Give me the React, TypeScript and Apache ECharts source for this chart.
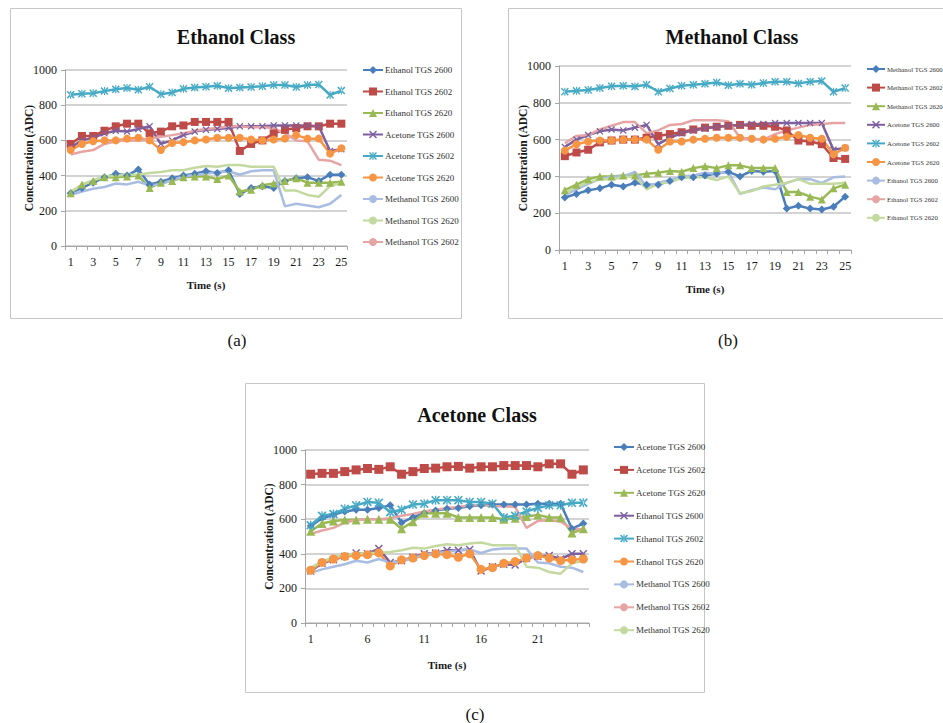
import React, { useEffect, useRef } from "react";
import * as echarts from "echarts";

const timeLabels = ["1","2","3","4","5","6","7","8","9","10","11","12","13","14","15","16","17","18","19","20","21","22","23","24","25"];

// ---- (a) Ethanol Class ----
const aEthanol2600 = [300, 330, 360, 390, 410, 400, 435, 350, 365, 385, 400, 410, 425, 415, 430, 295, 330, 340, 330, 370, 385, 390, 370, 405, 405];
const aEthanol2602 = [580, 625, 625, 655, 680, 695, 695, 640, 650, 680, 685, 705, 705, 705, 705, 540, 580, 600, 640, 660, 670, 680, 680, 695, 695];
const aEthanol2620 = [300, 350, 370, 390, 390, 395, 400, 330, 360, 370, 390, 395, 395, 380, 400, 310, 320, 345, 355, 370, 385, 360, 360, 360, 365];
const aAcetone2600 = [560, 600, 615, 640, 655, 650, 665, 680, 580, 600, 630, 650, 660, 665, 670, 680, 680, 680, 685, 685, 685, 685, 680, 540, 550];
const aAcetone2602 = [860, 865, 868, 880, 890, 898, 888, 905, 862, 872, 893, 900, 905, 910, 897, 900, 903, 908, 915, 915, 903, 915, 918, 858, 883];
const aAcetone2620 = [545, 580, 595, 600, 600, 610, 615, 600, 545, 585, 590, 600, 605, 615, 615, 615, 605, 600, 605, 610, 630, 610, 610, 525, 555];
const aMethanol2600 = [290, 310, 325, 335, 355, 350, 365, 345, 350, 375, 395, 405, 410, 420, 425, 405, 425, 430, 430, 225, 240, 230, 220, 240, 290];
const aMethanol2620 = [310, 345, 375, 395, 400, 405, 405, 415, 420, 430, 430, 445, 455, 450, 460, 460, 450, 450, 450, 315, 315, 290, 280, 340, 360];
const aMethanol2602 = [520, 535, 545, 580, 595, 600, 600, 610, 620, 630, 640, 655, 665, 670, 680, 680, 675, 675, 670, 640, 600, 595, 490, 485, 460];

// ---- (b) Methanol Class ----
const bMethanol2600 = [285, 305, 325, 335, 355, 345, 365, 355, 355, 375, 395, 395, 405, 415, 425, 400, 430, 425, 430, 225, 240, 225, 220, 235, 290];
const bMethanol2602 = [510, 530, 545, 585, 595, 600, 600, 610, 620, 630, 640, 655, 665, 670, 675, 680, 675, 675, 670, 650, 595, 590, 575, 500, 495];
const bMethanol2620 = [325, 355, 385, 400, 400, 405, 405, 415, 420, 430, 425, 445, 455, 445, 460, 460, 445, 445, 445, 315, 315, 290, 275, 335, 355];
const bAcetone2600 = [560, 600, 625, 645, 655, 650, 665, 680, 575, 610, 635, 650, 660, 670, 675, 680, 685, 685, 690, 690, 690, 690, 690, 545, 555];
const bAcetone2602 = [860, 865, 870, 880, 890, 893, 888, 898, 860, 878, 893, 898, 903, 910, 895, 903, 898, 908, 915, 915, 905, 915, 918, 860, 880];
const bAcetone2620 = [540, 575, 590, 595, 595, 600, 600, 600, 545, 590, 590, 600, 605, 610, 610, 610, 605, 600, 605, 615, 625, 610, 605, 520, 555];
const bEthanol2600 = [300, 330, 360, 385, 400, 400, 425, 345, 365, 380, 400, 405, 420, 415, 425, 305, 325, 340, 330, 365, 385, 385, 365, 395, 400];
const bEthanol2602 = [580, 620, 625, 655, 675, 695, 695, 635, 650, 680, 685, 705, 705, 705, 700, 610, 600, 600, 630, 650, 665, 680, 685, 690, 690];
const bEthanol2620 = [305, 345, 365, 385, 385, 395, 400, 330, 360, 370, 390, 395, 395, 380, 400, 310, 320, 345, 355, 365, 385, 360, 360, 360, 365];

// ---- (c) Acetone Class ----
const cAcetone2600 = [560, 605, 625, 645, 655, 655, 665, 680, 580, 610, 635, 650, 660, 665, 675, 680, 685, 685, 685, 685, 690, 690, 690, 545, 575];
const cAcetone2602 = [860, 865, 865, 875, 885, 893, 888, 903, 860, 875, 893, 895, 903, 905, 895, 903, 903, 910, 910, 910, 903, 920, 920, 860, 885];
const cAcetone2620 = [530, 575, 590, 595, 595, 600, 600, 600, 545, 585, 635, 635, 635, 610, 610, 610, 610, 600, 605, 615, 625, 610, 610, 520, 545];
const cEthanol2600 = [300, 345, 365, 385, 405, 400, 430, 350, 360, 380, 400, 405, 420, 420, 425, 300, 325, 340, 335, 375, 385, 390, 370, 400, 400];
const cEthanol2602 = [565, 620, 630, 660, 680, 700, 695, 640, 655, 685, 690, 710, 710, 710, 700, 700, 690, 610, 620, 645, 665, 680, 680, 695, 695];
const cEthanol2620 = [305, 350, 370, 385, 390, 395, 405, 330, 365, 375, 390, 400, 395, 380, 400, 310, 320, 345, 355, 375, 390, 375, 360, 365, 370];
const cMethanol2600 = [290, 310, 325, 340, 360, 350, 370, 350, 355, 375, 395, 405, 410, 420, 425, 405, 425, 430, 430, 430, 350, 345, 325, 320, 295];
const cMethanol2602 = [515, 535, 550, 580, 595, 600, 600, 605, 620, 630, 645, 655, 665, 670, 680, 680, 675, 675, 670, 550, 590, 595, 585, 545, 540];
const cMethanol2620 = [320, 355, 380, 395, 400, 405, 405, 410, 420, 435, 430, 445, 455, 450, 460, 465, 450, 450, 450, 325, 320, 295, 285, 345, 360];

const C = {
  blue: "#4A7EBB",
  red: "#BE4B48",
  green: "#98B954",
  purple: "#7D60A0",
  cyan: "#46AAC5",
  orange: "#F69544",
  lightBlue: "#A9BCE2",
  lightGreen: "#C3D9A0",
  pink: "#E6A5A4",
};

const X_PATH = "path://M0,1.3L1.3,0L5,3.7L8.7,0L10,1.3L6.3,5L10,8.7L8.7,10L5,6.3L1.3,10L0,8.7L3.7,5Z";
const STAR_PATH = "path://M0,1.3L1.3,0L5,3.7L8.7,0L10,1.3L6.3,5L10,8.7L8.7,10L5,6.3L1.3,10L0,8.7L3.7,5ZM4.3,0L4.3,10L5.7,10L5.7,0Z";

type SDef = [string, number[], string, string, number];

const chartA: SDef[] = [
  ["Ethanol TGS 2600", aEthanol2600, C.blue, "diamond", 8],
  ["Ethanol TGS 2602", aEthanol2602, C.red, "rect", 8],
  ["Ethanol TGS 2620", aEthanol2620, C.green, "triangle", 8],
  ["Acetone TGS 2600", aAcetone2600, C.purple, X_PATH, 7],
  ["Acetone TGS 2602", aAcetone2602, C.cyan, STAR_PATH, 8],
  ["Acetone TGS 2620", aAcetone2620, C.orange, "circle", 8],
  ["Methanol TGS 2600", aMethanol2600, C.lightBlue, "none", 0],
  ["Methanol TGS 2620", aMethanol2620, C.lightGreen, "none", 0],
  ["Methanol TGS 2602", aMethanol2602, C.pink, "none", 0],
];
const chartB: SDef[] = [
  ["Methanol TGS 2600", bMethanol2600, C.blue, "diamond", 8],
  ["Methanol TGS 2602", bMethanol2602, C.red, "rect", 8],
  ["Methanol TGS 2620", bMethanol2620, C.green, "triangle", 8],
  ["Acetone TGS 2600", bAcetone2600, C.purple, X_PATH, 7],
  ["Acetone TGS 2602", bAcetone2602, C.cyan, STAR_PATH, 8],
  ["Acetone TGS 2620", bAcetone2620, C.orange, "circle", 8],
  ["Ethanol TGS 2600", bEthanol2600, C.lightBlue, "none", 0],
  ["Ethanol TGS 2602", bEthanol2602, C.pink, "none", 0],
  ["Ethanol TGS 2620", bEthanol2620, C.lightGreen, "none", 0],
];
const chartC: SDef[] = [
  ["Acetone TGS 2600", cAcetone2600, C.blue, "diamond", 8],
  ["Acetone TGS 2602", cAcetone2602, C.red, "rect", 9],
  ["Acetone TGS 2620", cAcetone2620, C.green, "triangle", 9],
  ["Ethanol TGS 2600", cEthanol2600, C.purple, X_PATH, 8],
  ["Ethanol TGS 2602", cEthanol2602, C.cyan, STAR_PATH, 9],
  ["Ethanol TGS 2620", cEthanol2620, C.orange, "circle", 9],
  ["Methanol TGS 2600", cMethanol2600, C.lightBlue, "none", 0],
  ["Methanol TGS 2602", cMethanol2602, C.pink, "none", 0],
  ["Methanol TGS 2620", cMethanol2620, C.lightGreen, "none", 0],
];

const FONT = "Liberation Serif";
const TXT = "#1a1a1a";

function App() {
  const ref = useRef<HTMLDivElement>(null);
  useEffect(() => {
    if (!ref.current) return;
    const chart = echarts.init(ref.current, null, { renderer: "svg" });
    const defs = [chartA, chartB, chartC];
    const suffix = ["#a", "#b", "#c"];
    const series: any[] = [];
    defs.forEach((list, g) => {
      list.forEach(([name, data, color, symbol, size]) => {
        series.push({
          type: "line",
          name: name + suffix[g],
          xAxisIndex: g,
          yAxisIndex: g,
          data,
          symbol,
          symbolSize: size,
          showSymbol: symbol !== "none",
          showAllSymbol: true,
          lineStyle: { width: 2.5, color },
          itemStyle: { color },
          emphasis: { disabled: true },
        });
      });
    });
    const grids = [
      { left: 65, top: 70, width: 282, height: 176 },
      { left: 559, top: 66, width: 292, height: 184 },
      { left: 305, top: 450, width: 284, height: 173 },
    ];
    const labelInterval = [1, 1, 4];
    const xNameGap = [33, 33, 36];
    const xAxis = grids.map((_, g) => ({
      gridIndex: g,
      type: "category",
      data: timeLabels,
      boundaryGap: true,
      axisLine: { lineStyle: { color: "#A6A6A6", width: 1 } },
      axisTick: { show: true, interval: 0, length: 4, lineStyle: { color: "#A6A6A6" } },
      axisLabel: { interval: labelInterval[g], color: TXT, fontFamily: FONT, fontSize: 12, margin: 10 },
      name: "Time (s)",
      nameLocation: "middle",
      nameGap: xNameGap[g],
      nameMoveOverlap: false,
      nameTextStyle: { fontFamily: FONT, fontWeight: "bold", fontSize: 11, color: TXT },
    }));
    const yAxis = grids.map((_, g) => ({
      gridIndex: g,
      type: "value",
      min: 0,
      max: 1000,
      interval: 200,
      axisLine: { show: true, lineStyle: { color: "#A6A6A6", width: 1 } },
      axisTick: { show: true, length: 4, lineStyle: { color: "#A6A6A6" } },
      splitLine: { lineStyle: { color: "#C4C4C4", width: 1.5 } },
      axisLabel: { color: TXT, fontFamily: FONT, fontSize: 12, margin: 8, formatter: (v: number) => String(v) },
      name: "Concentration (ADC)",
      nameLocation: "middle",
      nameRotate: 90,
      nameGap: 30,
      nameMoveOverlap: false,
      nameTextStyle: { fontFamily: FONT, fontWeight: "bold", fontSize: 11.5, color: TXT },
    }));
    const legendPos = [
      { left: 362, top: 65, gap: 11.5, w: 20, fs: 9 },
      { left: 866, top: 64, gap: 8.6, w: 18, fs: 6.8 },
      { left: 613, top: 442, gap: 12.9, w: 20, fs: 9 },
    ];
    const legend = defs.map((list, g) => ({
      orient: "vertical",
      left: legendPos[g].left,
      top: legendPos[g].top,
      padding: 0,
      itemWidth: legendPos[g].w,
      itemHeight: 10,
      itemGap: legendPos[g].gap,
      selectedMode: false,
      data: list.map((d) => d[0] + suffix[g]),
      formatter: (n: string) => n.replace(/#[abc]$/, ""),
      textStyle: { fontFamily: FONT, fontSize: legendPos[g].fs, color: "#333", lineHeight: 10, padding: [0, 0, 0, -3] },
    }));
    const titleStyle = { fontFamily: FONT, fontWeight: "bold", fontSize: 20, fill: "#111", textAlign: "center", textVerticalAlign: "middle" };
    const capStyle = { fontFamily: FONT, fontSize: 17, fill: "#111", textAlign: "center", textVerticalAlign: "middle" };
    const boxStyle = { fill: "none", stroke: "#C6C6C6", lineWidth: 1 };
    const graphic = [
      { type: "rect", shape: { x: 10.5, y: 8.5, width: 451, height: 310 }, style: boxStyle, silent: true },
      { type: "rect", shape: { x: 508.5, y: 8.5, width: 450, height: 310 }, style: boxStyle, silent: true },
      { type: "rect", shape: { x: 245.5, y: 383.5, width: 459, height: 309 }, style: boxStyle, silent: true },
      { type: "text", x: 236, y: 37, style: { ...titleStyle, text: "Ethanol Class" } },
      { type: "text", x: 732, y: 37, style: { ...titleStyle, text: "Methanol Class" } },
      { type: "text", x: 477, y: 415, style: { ...titleStyle, text: "Acetone Class" } },
      { type: "text", x: 237, y: 340, style: { ...capStyle, text: "(a)" } },
      { type: "text", x: 728, y: 340, style: { ...capStyle, text: "(b)" } },
      { type: "text", x: 475, y: 714, style: { ...capStyle, text: "(c)" } },
    ];
    chart.setOption({
      animation: false,
      backgroundColor: "#ffffff",
      grid: grids,
      xAxis,
      yAxis,
      legend,
      series,
      graphic,
    });
    return () => chart.dispose();
  }, []);
  return (
    <div
      ref={ref}
      style={{ position: "absolute", left: 0, top: 0, width: 943, height: 723, background: "#fff" }}
    />
  );
}

export default App;
